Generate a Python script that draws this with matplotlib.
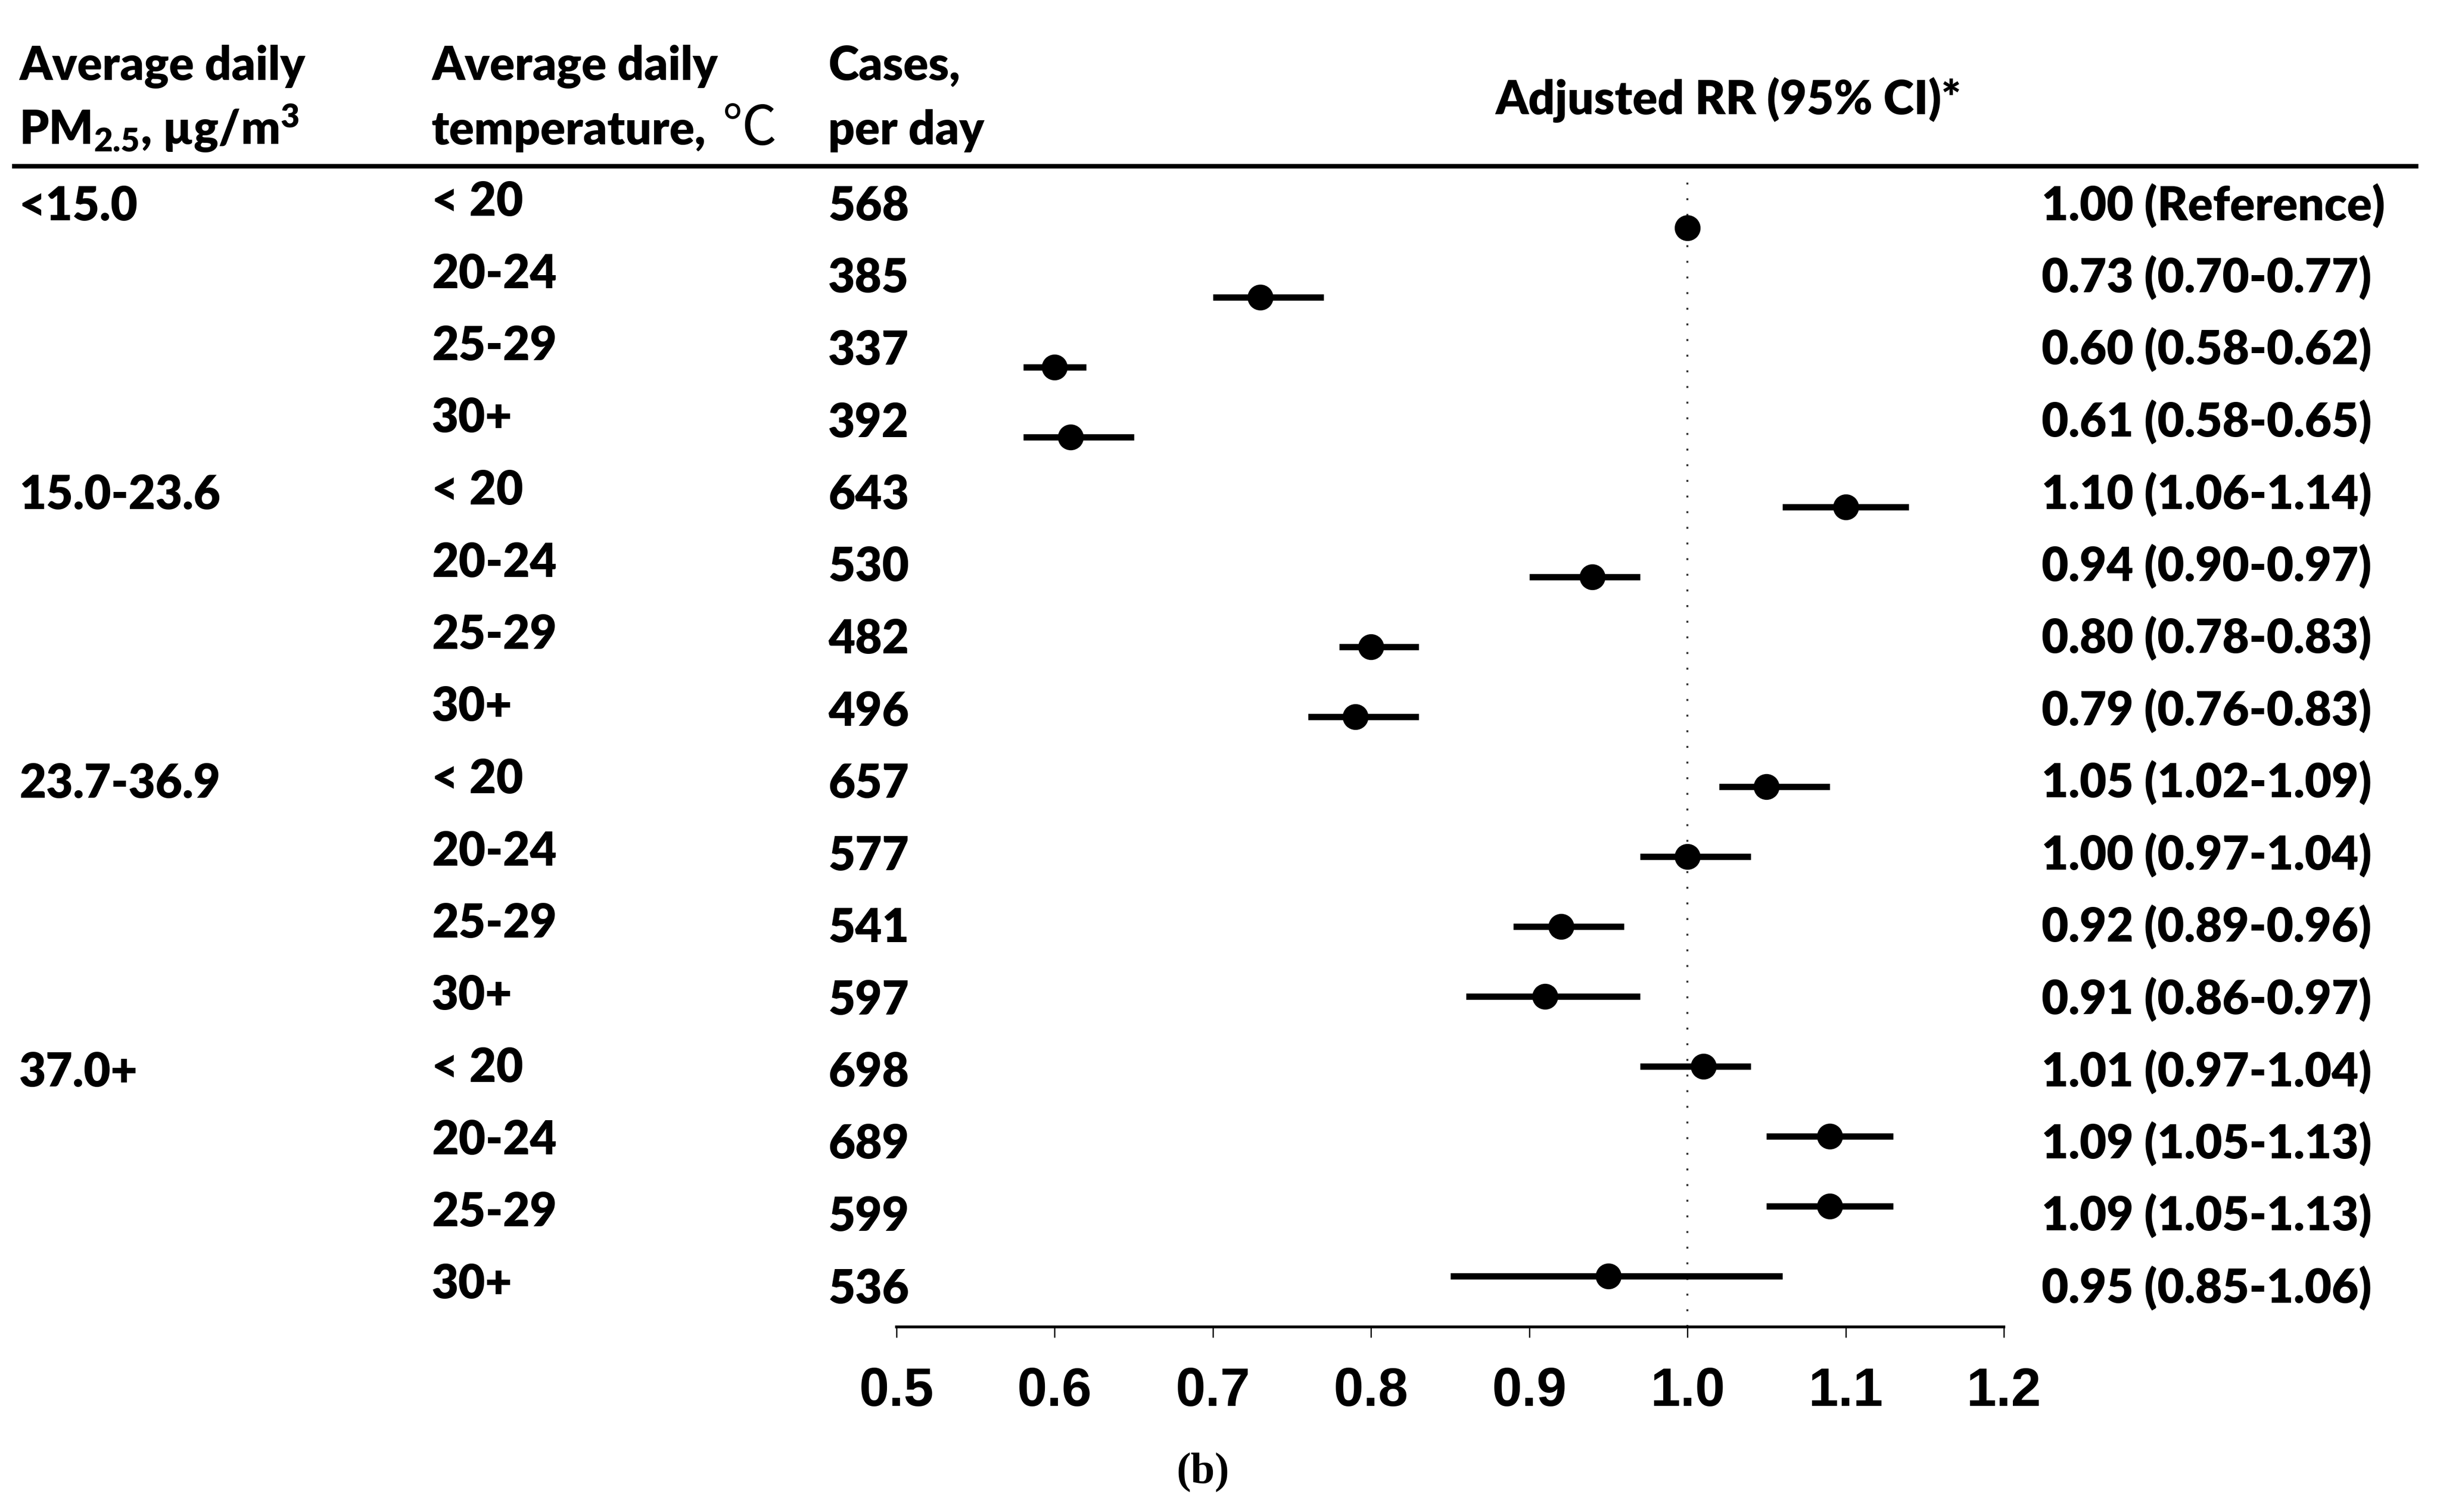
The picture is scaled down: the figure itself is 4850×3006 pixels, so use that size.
import matplotlib
matplotlib.use('Agg')
import matplotlib.pyplot as plt
import numpy as np

# ---------------- data ----------------
pm_groups = ['<15.0', '15.0-23.6', '23.7-36.9', '37.0+']
temp_bins = ['< 20', '20-24', '25-29', '30+']
cases = [568, 385, 337, 392, 643, 530, 482, 496, 657, 577, 541, 597, 698, 689, 599, 536]
rr = [1.00, 0.73, 0.60, 0.61, 1.10, 0.94, 0.80, 0.79, 1.05, 1.00, 0.92, 0.91, 1.01, 1.09, 1.09, 0.95]
ci_lo = [np.nan, 0.70, 0.58, 0.58, 1.06, 0.90, 0.78, 0.76, 1.02, 0.97, 0.89, 0.86, 0.97, 1.05, 1.05, 0.85]
ci_hi = [np.nan, 0.77, 0.62, 0.65, 1.14, 0.97, 0.83, 0.83, 1.09, 1.04, 0.96, 0.97, 1.04, 1.13, 1.13, 1.06]
x_ticks = [0.5, 0.6, 0.7, 0.8, 0.9, 1.0, 1.1, 1.2]
x_tick_labels = ['0.5', '0.6', '0.7', '0.8', '0.9', '1.0', '1.1', '1.2']
ref_value = 1.0

# ---------------- style ----------------
WEIGHT = 'heavy'
plt.rcParams['mathtext.fontset'] = 'custom'
plt.rcParams['mathtext.rm'] = 'Lato:heavy'
plt.rcParams['mathtext.it'] = 'Lato:heavy'
plt.rcParams['mathtext.bf'] = 'Lato:heavy'

W, H = 4850, 3006
fig = plt.figure(figsize=(W / 100, H / 100), dpi=100)
fig.patch.set_facecolor('white')

def fx(px):
    return px / W

def fy(py):
    return 1 - py / H

TFONT = ['Lato', 'Noto Sans CJK SC', 'DejaVu Sans']
TSIZE = 66.5

def ftext(x, y, s, **kw):
    kw.setdefault('family', TFONT)
    kw.setdefault('fontsize', TSIZE)
    kw.setdefault('fontweight', WEIGHT)
    kw.setdefault('va', 'baseline')
    return fig.text(fx(x), fy(y), s, **kw)

# ---------------- forest axes ----------------
ax_top, ax_bot = 340, 2638
ax_left, ax_right = 1782, 3983
ax = fig.add_axes([fx(ax_left), fy(ax_bot), (ax_right - ax_left) / W, (ax_bot - ax_top) / H])
ax.set_facecolor('none')
n = len(rr)
ypos = np.arange(n)
ax.set_xlim(0.5, 1.2)
ax.set_ylim(15.73, -0.81)

ax.axvline(ref_value, color='#333333', lw=2.8, linestyle=(0, (1, 7)), zorder=1)
ax.hlines(ypos, ci_lo, ci_hi, color='black', lw=9, capstyle='butt', zorder=2)
ax.plot(rr, ypos, 'o', color='black', ms=36, zorder=3, clip_on=False)

for s in ['top', 'left', 'right']:
    ax.spines[s].set_visible(False)
ax.spines['bottom'].set_linewidth(4)
ax.set_yticks([])
ax.set_xticks(x_ticks)
ax.set_xticklabels(x_tick_labels, fontfamily='Liberation Sans', fontweight='bold', fontsize=77)
ax.tick_params(axis='x', direction='out', length=15, width=1.8, pad=42, colors='black')

# ---------------- table text ----------------
col1, col2, col3, col4 = 38, 858, 1646, 4058
hdr1, hdr2 = 159, 287
ftext(col1, hdr1, 'Average daily')
ftext(col1, hdr2, r'PM$_{2.5}$, µg/m$^{3}$')
ftext(col2, hdr1, 'Average daily')
ftext(col2, hdr2, 'temperature,')
ftext(1436, hdr2 + 2, '℃', family=['Noto Sans CJK SC', 'DejaVu Sans'], fontweight='normal', fontsize=78)
ftext(col3, hdr1, 'Cases,')
ftext(col3, hdr2, 'per day')
ftext(3435, 227, 'Adjusted RR (95% CI)*', ha='center')

fig.add_artist(plt.Line2D([fx(28), fx(4802)], [fy(330), fy(330)], color='black', lw=6.5,
                          transform=fig.transFigure))

row0, step = 438, 143.5
for i in range(n):
    yb = row0 + i * step
    if i % len(temp_bins) == 0:
        ftext(col1, yb, pm_groups[i // len(temp_bins)])
    ftext(col2, yb - 9, temp_bins[i % len(temp_bins)])
    ftext(col3, yb, str(cases[i]))
    if np.isnan(ci_lo[i]):
        lab = f'{rr[i]:.2f} (Reference)'
    else:
        lab = f'{rr[i]:.2f} ({ci_lo[i]:.2f}-{ci_hi[i]:.2f})'
    ftext(col4, yb, lab)

fig.text(fx(2391), fy(2947), '(b)', family=['Liberation Serif', 'DejaVu Serif'], fontweight='bold',
         fontsize=62, ha='center', va='baseline')

fig.savefig('out.png', dpi=100, facecolor='white')
